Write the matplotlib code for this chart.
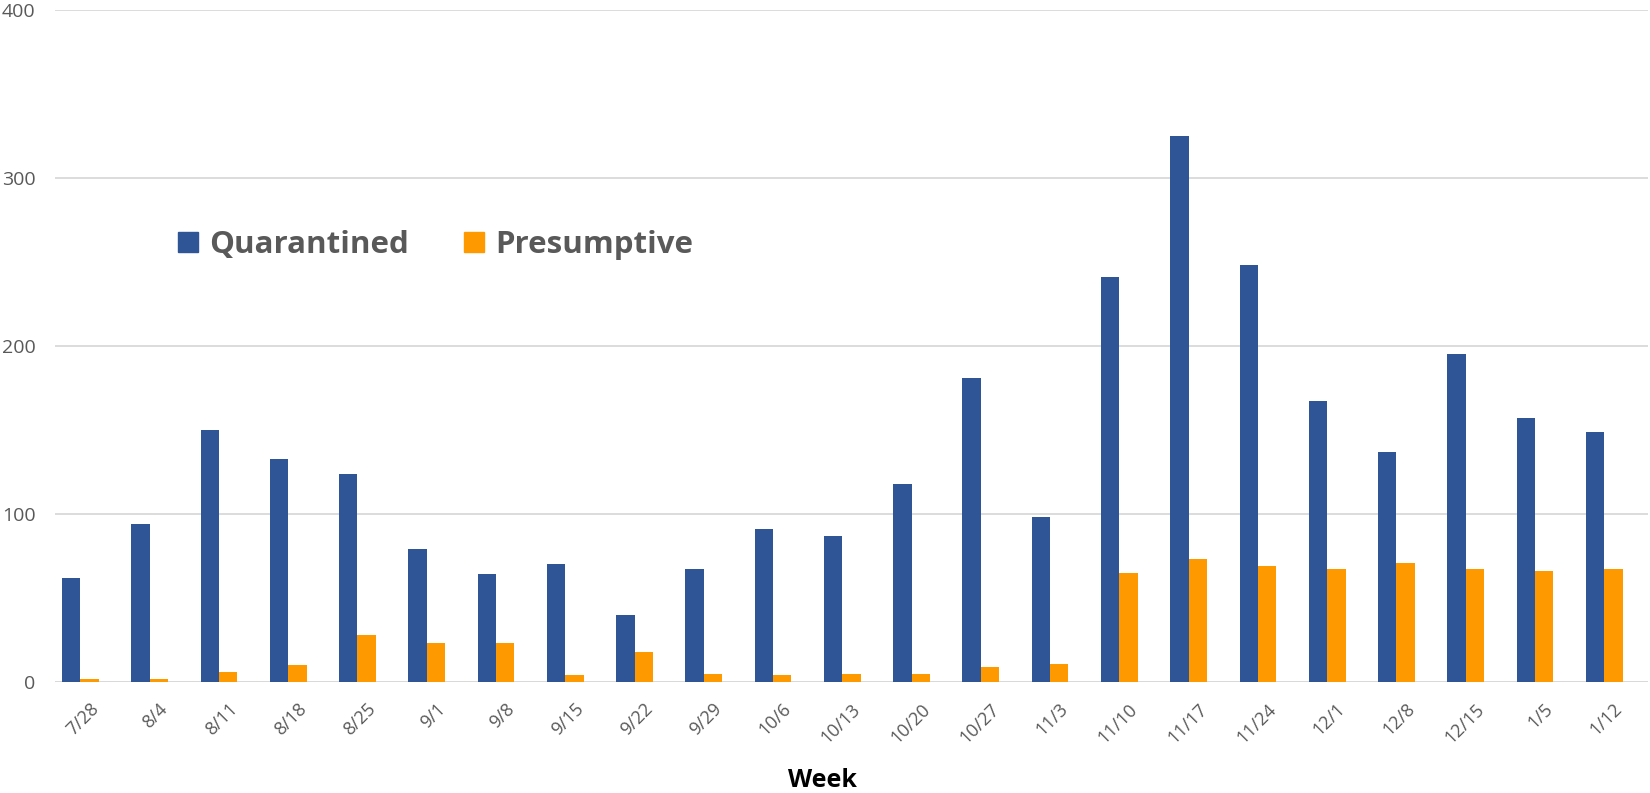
import matplotlib
matplotlib.use("Agg")
import matplotlib.pyplot as plt
import numpy as np
from matplotlib.patches import Patch

weeks = ["7/28", "8/4", "8/11", "8/18", "8/25", "9/1", "9/8", "9/15", "9/22", "9/29",
         "10/6", "10/13", "10/20", "10/27", "11/3", "11/10", "11/17", "11/24", "12/1",
         "12/8", "12/15", "1/5", "1/12"]
quarantined = [62, 94, 150, 133, 124, 79, 64, 70, 40, 67, 91, 87, 118, 181, 98,
               241, 325, 248, 167, 137, 195, 157, 149]
presumptive = [2, 2, 6, 10, 28, 23, 23, 4, 18, 5, 4, 5, 5, 9, 11,
               65, 73, 69, 67, 71, 67, 66, 67]
y_ticks = [0, 100, 200, 300, 400]

blue = "#2F5597"
orange = "#FF9900"
gray = "#595959"
grid = "#D9D9D9"

plt.rcParams['font.family'] = ['Open Sans', 'DejaVu Sans']

fig = plt.figure(figsize=(16.5, 7.93), dpi=100)
ax = fig.add_axes([55/1650, 1-682/793, (1648-55)/1650, (682-10)/793])

x = np.arange(len(weeks))
w = 0.265
ax.bar(x - w, quarantined, width=w, color=blue, zorder=3)
ax.bar(x, presumptive, width=w, color=orange, zorder=3)

ax.set_xlim(-0.5, len(weeks) - 0.5)
ax.set_ylim(0, 400)
ax.set_yticks(y_ticks)
ax.yaxis.grid(True, color=grid, linewidth=1.3, zorder=0)
ax.set_axisbelow(True)
for s in ax.spines.values():
    s.set_visible(False)
ax.axhline(0, color=grid, linewidth=1.3, zorder=1)
ax.tick_params(axis='both', length=0, labelcolor=gray)
ax.tick_params(axis='y', pad=14, labelsize=14)
ax.set_xticks(x)
ax.set_xticklabels(weeks, rotation=45, ha='right', rotation_mode='anchor')
ax.tick_params(axis='x', pad=13, labelsize=13)

fig.text(822/1650, 1-780.5/793, "Week", ha='center', va='center', fontsize=18,
         fontweight='bold', color='black')

handles = [Patch(color=blue), Patch(color=orange)]
leg = fig.legend(handles, ["Quarantined", "Presumptive"], loc='center left',
                 bbox_to_anchor=(150/1650, 1-245/793), ncol=2, frameon=False,
                 prop={'size': 22.5, 'weight': 'bold'}, handlelength=0.65,
                 handleheight=0.65, handletextpad=0.35, columnspacing=1.75)
for t in leg.get_texts():
    t.set_color(gray)

fig.savefig("out.png", dpi=100)
